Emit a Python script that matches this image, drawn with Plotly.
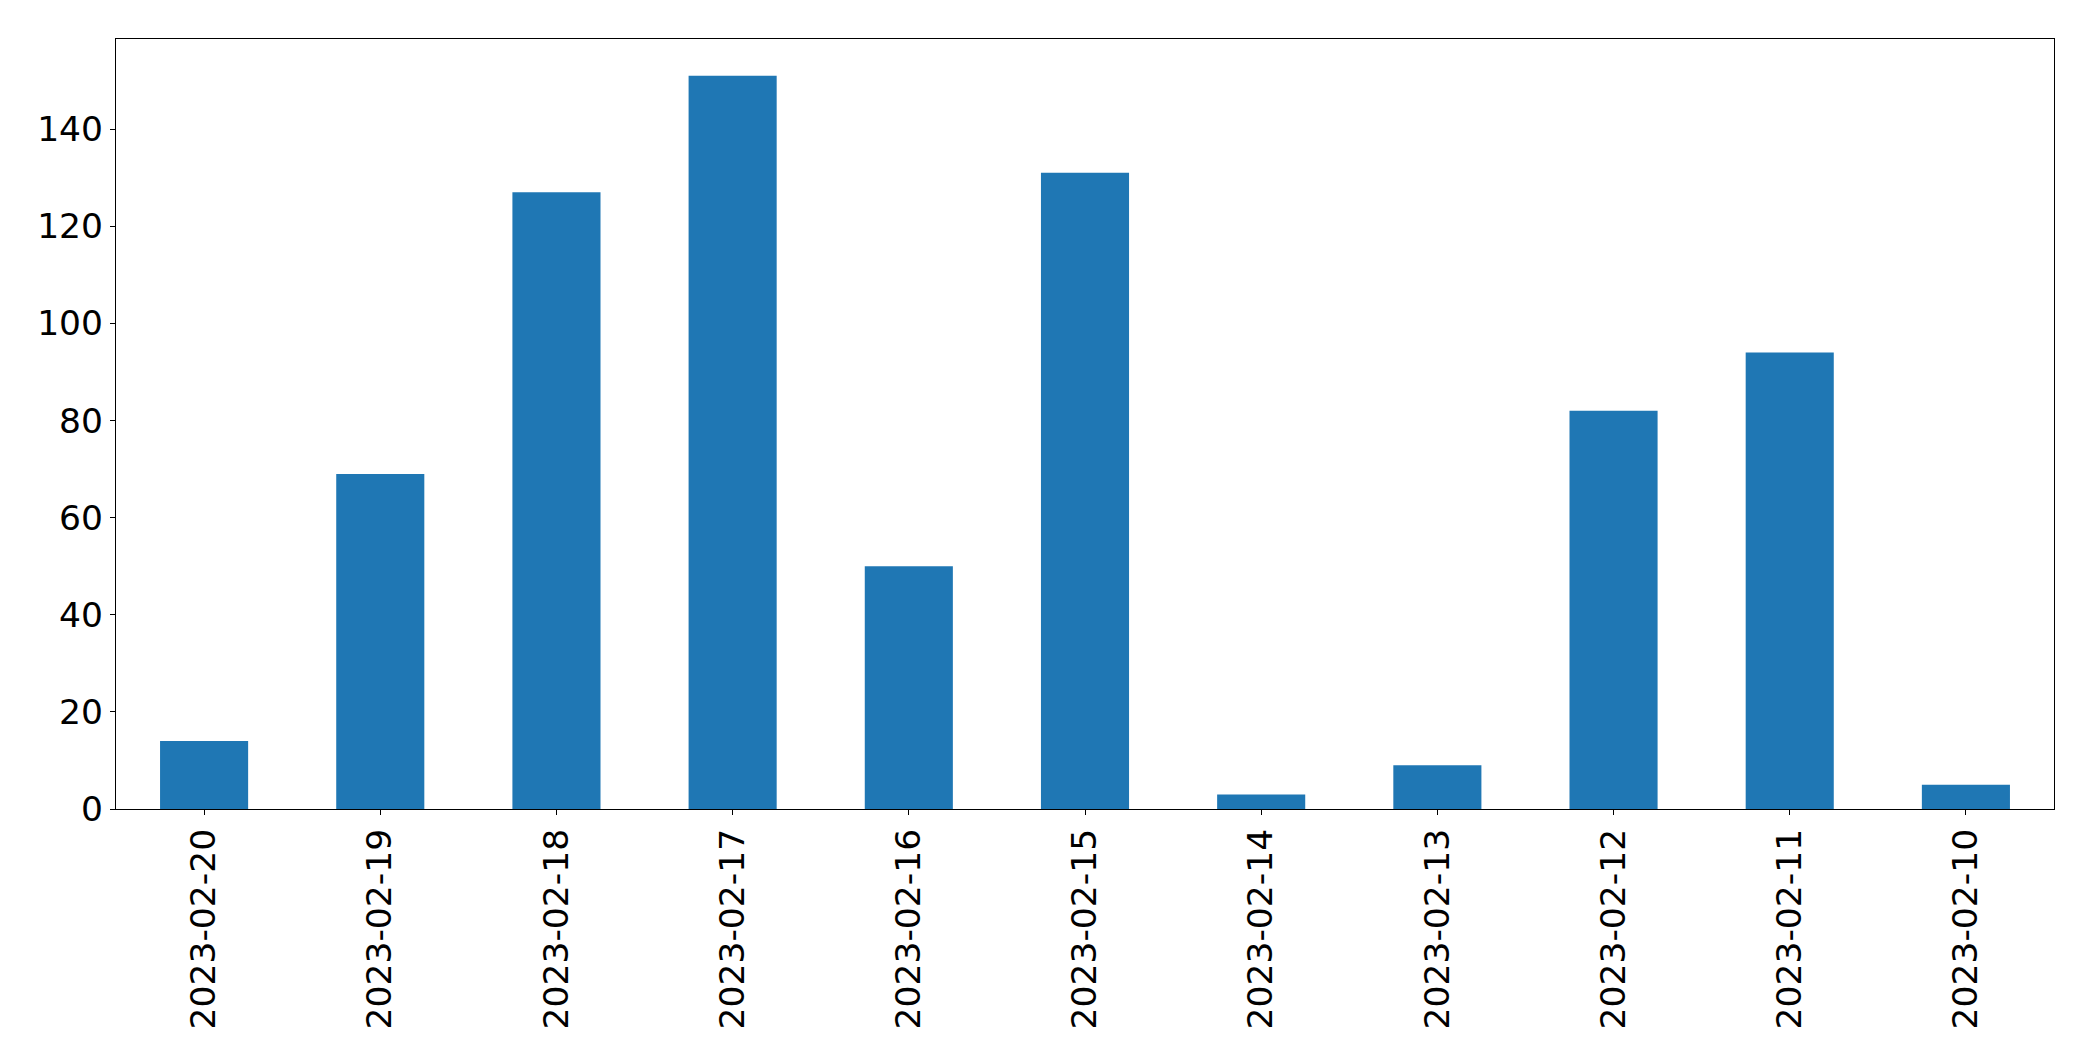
import plotly.graph_objects as go

dates = ["2023-02-20", "2023-02-19", "2023-02-18", "2023-02-17", "2023-02-16",
         "2023-02-15", "2023-02-14", "2023-02-13", "2023-02-12", "2023-02-11", "2023-02-10"]
counts = [14, 69, 127, 151, 50, 131, 3, 9, 82, 94, 5]
y_ticks = [0, 20, 40, 60, 80, 100, 120, 140]

fig = go.Figure(go.Bar(x=dates, y=counts, width=0.5, marker=dict(color="#1f77b4", line=dict(width=0))))

font = dict(family="DejaVu Sans", size=34.5, color="black")
fig.update_layout(
    template="none",
    width=2085, height=1053,
    margin=dict(l=108, r=39, t=31, b=252, pad=0),
    paper_bgcolor="white", plot_bgcolor="white",
    showlegend=False,
    font=font,
)
fig.update_xaxes(type="category", range=[-0.5, 10.5], tickangle=-90, automargin=False,
                 showline=True, linecolor="black", linewidth=1.2, mirror=True,
                 ticks="outside", ticklen=5, tickwidth=1.2, tickcolor="black",
                 showgrid=False, zeroline=False, tickfont=font)
fig.update_yaxes(range=[0, 158.55], tickvals=y_ticks, automargin=False,
                 showline=True, linecolor="black", linewidth=1.2, mirror=True,
                 ticks="outside", ticklen=5, tickwidth=1.2, tickcolor="black",
                 showgrid=False, zeroline=False, tickfont=font)

fig.write_html("out.html")
